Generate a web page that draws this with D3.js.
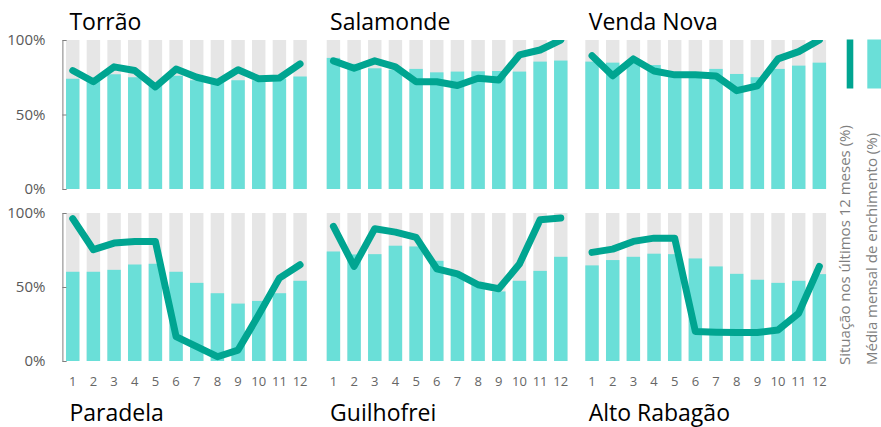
<!DOCTYPE html>
<html>
<head>
<meta charset="utf-8">
<script src="https://cdn.jsdelivr.net/npm/d3@7"></script>
<style>
  body { margin: 0; background: #fff; }
  svg { font-family: "Open Sans", sans-serif; display: block; }
</style>
</head>
<body>
<div id="chart"></div>
<script>
// 1: DATA
const months = ["1", "2", "3", "4", "5", "6", "7", "8", "9", "10", "11", "12"];
const reservoirs = ["Torrão", "Salamonde", "Venda Nova", "Paradela", "Guilhofrei", "Alto Rabagão"];

// situação nos últimos 12 meses (%)
const situacao = [
    [79.5, 72, 82, 79.5, 68.5, 80.5, 75, 71.5, 80, 74, 74.5, 84],
    [86, 81, 86, 82, 72, 72, 69.5, 74.3, 73.2, 90, 93.3, 100],
    [89.5, 76, 87.3, 79.2, 76.6, 76.6, 75.9, 66, 69.2, 87.3, 92.2, 100],
    [96.2, 75.2, 79.7, 80.8, 80.8, 16.5, 9.7, 2.9, 7.4, 31.2, 56, 65],
    [91, 63.9, 89.4, 87.1, 83.5, 62.3, 58.9, 51.5, 48.8, 65.5, 95.5, 96.6],
    [73.4, 75.6, 80.8, 83, 83, 19.9, 19.4, 19.2, 19.2, 21, 32.3, 63.9]
];

// média mensal de enchimento (%)
const media = [
    [74, 73, 77, 75, 70, 76, 73, 71.5, 73, 73, 74, 75.5],
    [88, 84, 81, 80, 80.6, 78.3, 78.8, 79, 79.2, 78.8, 85.5, 86.2],
    [85.5, 84.8, 85, 83.2, 78.5, 78, 80.6, 77.2, 75, 80.6, 82.8, 84.8],
    [60.3, 60.3, 61.6, 65.2, 65.7, 60.3, 52.8, 45.8, 38.8, 40.6, 45.8, 54.2],
    [74, 72, 72.2, 77.9, 77.4, 67.7, 58, 52, 47, 54.2, 60.9, 70.4],
    [64.6, 68.2, 70.4, 72.5, 72.2, 69.3, 63.9, 58.9, 54.9, 52.8, 54.2, 58.7]
];

const legendLabels = ["Situação nos últimos 12 meses (%)", "Média mensal de enchimento (%)"];

// 2: LAYOUT
const W = 881, H = 427;
const colX = [62.4, 323.1, 581.7];
const panelW = 248;
const rowY = [[189, 40], [361, 213]];

const cGray = "#e6e6e6";
const cBar = "#6adfd8";
const cLine = "#00a591";
const cText = "#595959";

const svg = d3.select("#chart")
    .append("svg")
    .attr("width", W)
    .attr("height", H);

const defs = svg.append("defs");

reservoirs.forEach((name, i) => {
    const col = i % 3, row = Math.floor(i / 3);
    const x = d3.scaleBand()
        .domain(months)
        .range([colX[col], colX[col] + panelW])
        .paddingInner(0.35)
        .paddingOuter(0.175);
    const y = d3.scaleLinear()
        .domain([0, 100])
        .range(rowY[row]);

    const g = svg.append("g");

    // background bars (100%)
    g.selectAll(".bg")
        .data(months)
        .enter()
        .append("rect")
        .attr("x", d => x(d))
        .attr("width", x.bandwidth())
        .attr("y", y(100))
        .attr("height", y(0) - y(100))
        .attr("fill", cGray);

    // media bars
    g.selectAll(".bar")
        .data(media[i])
        .enter()
        .append("rect")
        .attr("x", (d, j) => x(months[j]))
        .attr("width", x.bandwidth())
        .attr("y", d => y(d))
        .attr("height", d => y(0) - y(d))
        .attr("fill", cBar);

    // clip for line at 100%
    const clipId = "clip" + i;
    defs.append("clipPath")
        .attr("id", clipId)
        .append("rect")
        .attr("x", colX[col] - 10)
        .attr("y", y(100))
        .attr("width", panelW + 20)
        .attr("height", y(0) - y(100) + 10);

    const line = d3.line()
        .x((d, j) => x(months[j]) + x.bandwidth() / 2)
        .y(d => y(d));

    g.append("path")
        .attr("d", line(situacao[i]))
        .attr("clip-path", `url(#${clipId})`)
        .attr("fill", "none")
        .attr("stroke", cLine)
        .attr("stroke-width", 7)
        .attr("stroke-linejoin", "round")
        .attr("stroke-linecap", "round");

    // y axis only first column
    if (col === 0) {
        const ax = g.append("g")
            .attr("transform", `translate(${colX[col]},0)`)
            .call(d3.axisLeft(y).tickValues([0, 50, 100]).tickFormat(d => d + "%")
                .tickSize(-4).tickPadding(17));
        ax.selectAll("path, line").attr("stroke", "#7f7f7f");
        ax.selectAll("text")
            .attr("fill", cText)
            .style("font-size", "15px")
            .style("font-family", "Open Sans");
    }

    // month labels on bottom row
    if (row === 1) {
        const ax = g.append("g")
            .attr("transform", `translate(0,${y(0)})`)
            .call(d3.axisBottom(x).tickSize(0).tickPadding(16));
        ax.select(".domain").remove();
        ax.selectAll("text")
            .attr("fill", "#666")
            .style("font-size", "13px")
            .style("font-family", "Open Sans");
    }

    // title
    svg.append("text")
        .attr("x", colX[col] + 7)
        .attr("y", row === 0 ? 30 : 421)
        .attr("fill", "#000")
        .style("font-size", "23px")
        .text(name);
});

// 3: LEGEND
const legendX = [846.7, 867.3];
const legendW = [6.6, 16];
const legendColors = [cLine, cBar];
legendLabels.forEach((label, k) => {
    svg.append("rect")
        .attr("x", legendX[k])
        .attr("y", 39.5)
        .attr("width", legendW[k])
        .attr("height", 49)
        .attr("fill", legendColors[k]);
    svg.append("text")
        .attr("transform", `translate(${k === 0 ? 849.5 : 876.5},365) rotate(-90)`)
        .attr("text-anchor", "start")
        .attr("fill", "#7f7f7f")
        .style("font-size", "15px")
        .text(label);
});
</script>
</body>
</html>
